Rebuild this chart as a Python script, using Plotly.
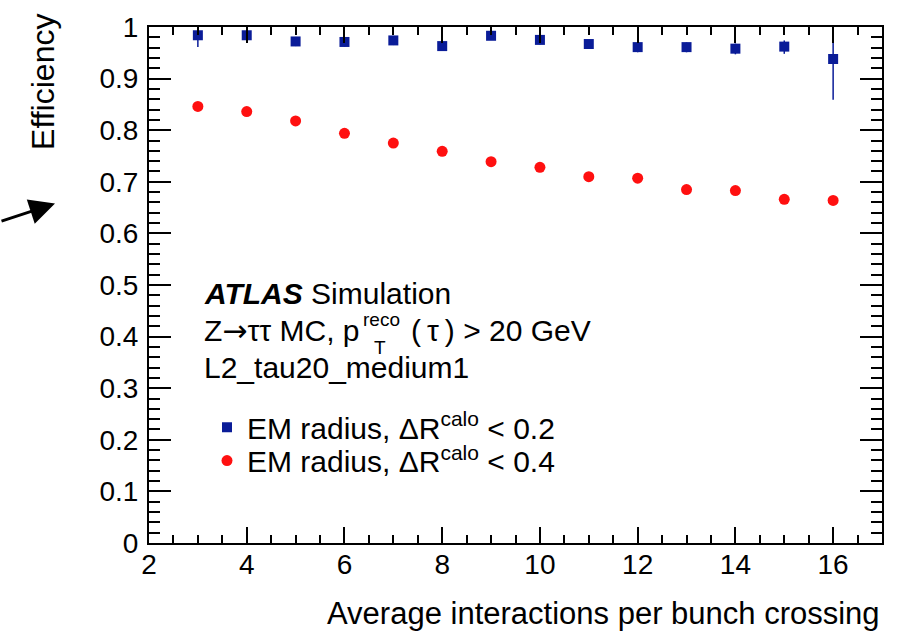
import plotly.graph_objects as go

# Average number of interactions per bunch crossing (bin centres)
crossings = [3, 4, 5, 6, 7, 8, 9, 10, 11, 12, 13, 14, 15, 16]

# EM radius, dR(calo) < 0.2
eff_dr02 = [0.984, 0.984, 0.972, 0.971, 0.974, 0.963, 0.983, 0.975,
            0.967, 0.961, 0.961, 0.958, 0.962, 0.938]
eff_dr02_up = [0.012, 0.010, 0.008, 0.008, 0.008, 0.008, 0.007, 0.008,
               0.008, 0.009, 0.009, 0.010, 0.012, 0.042]
eff_dr02_down = [0.023, 0.012, 0.009, 0.009, 0.009, 0.009, 0.008, 0.009,
                 0.009, 0.010, 0.010, 0.011, 0.014, 0.079]

# EM radius, dR(calo) < 0.4
eff_dr04 = [0.846, 0.836, 0.818, 0.794, 0.775, 0.759, 0.739, 0.728,
            0.710, 0.707, 0.685, 0.683, 0.666, 0.664]
eff_dr04_err = [0.006, 0.005, 0.005, 0.005, 0.005, 0.005, 0.005, 0.005,
                0.005, 0.005, 0.006, 0.006, 0.007, 0.008]

x_tick_vals = [2, 4, 6, 8, 10, 12, 14, 16]
y_tick_vals = [0, 0.1, 0.2, 0.3, 0.4, 0.5, 0.6, 0.7, 0.8, 0.9, 1.0]
y_tick_text = ["0", "0.1", "0.2", "0.3", "0.4", "0.5", "0.6", "0.7", "0.8", "0.9", "1"]

BLUE = "#0a1c98"
RED = "#ff1010"
FONT = "Liberation Sans, Arial, Helvetica, sans-serif"
ARROW_FONT = "DejaVu Sans"

W, H = 897, 633
L, R, T, B = 149, 15, 17, 90
PW, PH = W - L - R, H - T - B


def px_x(p):
    return (p - L) / PW


def px_y(p):
    return (H - B - p) / PH


fig = go.Figure()

fig.add_trace(go.Scatter(
    x=crossings, y=eff_dr02, mode="markers",
    name="EM radius, \u0394R<sup>calo</sup> < 0.2",
    marker=dict(symbol="square", size=10, color=BLUE),
    error_y=dict(type="data", symmetric=False, array=eff_dr02_up,
                 arrayminus=eff_dr02_down, color=BLUE, thickness=1.5, width=0),
    legend="legend",
))
fig.add_trace(go.Scatter(
    x=crossings, y=eff_dr04, mode="markers",
    name="EM radius, \u0394R<sup>calo</sup> < 0.4",
    marker=dict(symbol="circle", size=11, color=RED),
    error_y=dict(type="data", array=eff_dr04_err, color=RED, thickness=1.5, width=0),
    legend="legend2",
))

axis_common = dict(
    showline=True, linecolor="black", linewidth=2, mirror="allticks",
    ticks="inside", tickcolor="black", tickwidth=1.5,
    showgrid=False, zeroline=False,
    tickfont=dict(family=FONT, size=28, color="black"),
)

fig.update_xaxes(
    range=[2, 17], tickvals=x_tick_vals, ticklen=16,
    minor=dict(dtick=0.5, tick0=2, ticklen=8, ticks="inside",
               tickcolor="black", tickwidth=1.5, showgrid=False),
    ticklabelstandoff=-5,
    **axis_common,
)
fig.update_yaxes(
    range=[0, 1], tickvals=y_tick_vals, ticktext=y_tick_text, ticklen=22,
    minor=dict(dtick=0.02, tick0=0, ticklen=11, ticks="inside",
               tickcolor="black", tickwidth=1.5, showgrid=False),
    ticklabelstandoff=3,
    **axis_common,
)

TXT = dict(family=FONT, size=30, color="black")
SMALL = dict(family=FONT, size=19, color="black")

annotations = [
    # axis titles
    dict(text="Average interactions per bunch crossing", x=px_x(882), y=px_y(615),
         xanchor="right", yanchor="middle", showarrow=False,
         font=dict(family=FONT, size=31, color="black")),
    dict(text="Efficiency", x=px_x(43), y=px_y(73), textangle=-90,
         xanchor="center", yanchor="middle", showarrow=False,
         font=dict(family=FONT, size=32, color="black")),
    # label block
    dict(text="<b><i>ATLAS</i></b> Simulation", x=px_x(202), y=px_y(289),
         xanchor="left", yanchor="middle", showarrow=False, font=TXT),
    dict(text="Z<span style=\"font-family:'%s'\">\u2192</span>\u03c4\u03c4 MC, p" % ARROW_FONT,
         x=px_x(202), y=px_y(326),
         xanchor="left", yanchor="middle", showarrow=False, font=TXT),
    dict(text="reco", x=px_x(361), y=px_y(315),
         xanchor="left", yanchor="middle", showarrow=False, font=SMALL),
    dict(text="T", x=px_x(372), y=px_y(344),
         xanchor="left", yanchor="middle", showarrow=False, font=SMALL),
    dict(text="(\u2009\u03c4\u2009) > 20 GeV", x=px_x(409), y=px_y(326),
         xanchor="left", yanchor="middle", showarrow=False, font=TXT),
    dict(text="L2_tau20_medium1", x=px_x(202), y=px_y(364),
         xanchor="left", yanchor="middle", showarrow=False, font=TXT),
    # pointer arrow at the left edge
    dict(text="", x=px_x(55), y=px_y(197),
         ax=-62, ay=18, showarrow=True, arrowhead=2, arrowsize=1.7,
         arrowwidth=3, arrowcolor="black"),
]
for a in annotations:
    a.setdefault("xref", "paper")
    a.setdefault("yref", "paper")

legend_common = dict(xanchor="left", yanchor="middle",
                     bgcolor="rgba(0,0,0,0)", borderwidth=0,
                     font=dict(family=FONT, size=30, color="black"),
                     itemsizing="trace")

fig.update_layout(
    width=W, height=H,
    margin=dict(l=L, r=R, t=T, b=B),
    paper_bgcolor="white", plot_bgcolor="white",
    annotations=annotations,
    showlegend=True,
    legend=dict(x=px_x(207), y=px_y(425), **legend_common),
    legend2=dict(x=px_x(207), y=px_y(459), **legend_common),
)

fig.write_html("out.html")
